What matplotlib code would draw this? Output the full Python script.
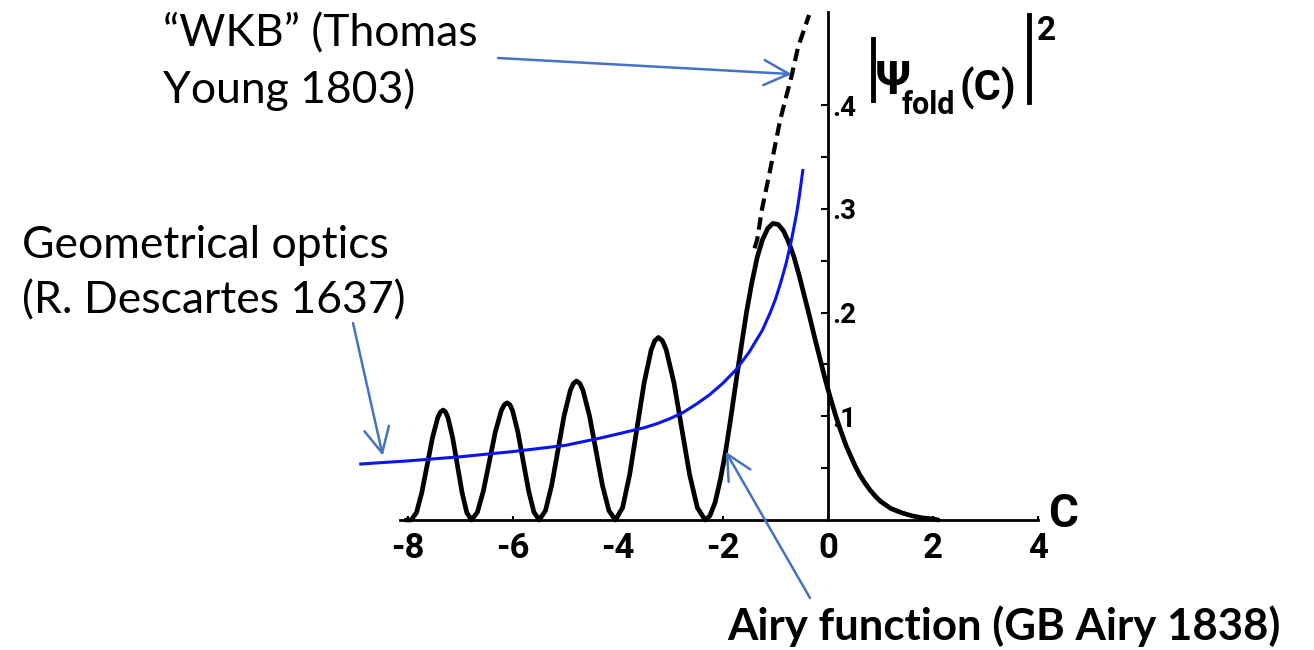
import matplotlib
matplotlib.use('Agg')
import matplotlib.pyplot as plt
from matplotlib.lines import Line2D

# |Ai(C)|^2
airy_c = [-8.04, -7.94, -7.838, -7.737, -7.635, -7.533, -7.432, -7.381, -7.33,
          -7.285, -7.24, -7.15, -7.06, -6.97, -6.88, -6.79,
          -6.677, -6.563, -6.45, -6.337, -6.223, -6.167, -6.11,
          -6.059, -6.008, -5.907, -5.805, -5.703, -5.602, -5.50,
          -5.382, -5.263, -5.145, -5.027, -4.908, -4.849, -4.79,
          -4.728, -4.667, -4.543, -4.42, -4.297, -4.173, -4.05,
          -3.913, -3.777, -3.64, -3.503, -3.367, -3.298, -3.23,
          -3.156, -3.082, -2.933, -2.785, -2.637, -2.488, -2.34,
          -2.25, -2.15, -2.05, -1.95, -1.85, -1.75, -1.65, -1.55, -1.45, -1.35,
          -1.25, -1.15, -1.05, -0.95, -0.85, -0.75, -0.65, -0.55, -0.45, -0.35,
          -0.25, -0.15, -0.05, 0.05, 0.15, 0.25, 0.35, 0.5, 0.6, 0.7, 0.8, 0.9,
          1.0, 1.2, 1.4, 1.6, 1.8, 2.0, 2.1]
airy_i = [0.0, 0.0, 0.0071, 0.0265, 0.053, 0.0795, 0.0989, 0.1042, 0.106,
          0.1042, 0.0989, 0.0795, 0.053, 0.0265, 0.0071, 0.0,
          0.0076, 0.0283, 0.0565, 0.0848, 0.1054, 0.1111, 0.113,
          0.1111, 0.1054, 0.0848, 0.0565, 0.0283, 0.0076, 0.0,
          0.009, 0.0335, 0.067, 0.1005, 0.125, 0.1317, 0.134,
          0.1317, 0.125, 0.1005, 0.067, 0.0335, 0.009, 0.0,
          0.0118, 0.044, 0.088, 0.132, 0.1642, 0.173, 0.176,
          0.173, 0.1642, 0.132, 0.088, 0.044, 0.0118, 0.0,
          0.004, 0.017, 0.039, 0.066, 0.099, 0.134, 0.168, 0.201, 0.229, 0.253,
          0.270, 0.281, 0.286, 0.285, 0.279, 0.268, 0.254, 0.236, 0.216, 0.196,
          0.175, 0.155, 0.135, 0.117, 0.100, 0.085, 0.071, 0.054, 0.044, 0.036,
          0.029, 0.023, 0.018, 0.011, 0.007, 0.004, 0.002, 0.001, 0.0]

# dashed WKB branch
wkb_c = [-1.40, -1.35, -1.26, -1.10, -0.91, -0.69, -0.57, -0.36]
wkb_i = [0.262, 0.270, 0.299, 0.338, 0.386, 0.429, 0.456, 0.487]

# blue geometrical optics curve
geo_c = [-8.90, -8.0, -7.0, -6.0, -5.0, -4.34, -4.0, -3.5, -3.25, -3.0, -2.75,
         -2.5, -2.25, -2.0, -1.75, -1.5, -1.25, -1.1, -1.0, -0.9, -0.8, -0.7,
         -0.6, -0.55, -0.48]
geo_i = [0.054, 0.057, 0.061, 0.066, 0.072, 0.079, 0.083, 0.089, 0.093, 0.098,
         0.104, 0.112, 0.121, 0.132, 0.145, 0.162, 0.183, 0.200, 0.213, 0.229,
         0.247, 0.269, 0.295, 0.311, 0.337]

xticks = [-8, -6, -4, -2, 0, 2, 4]
xlabels = ['-8', '-6', '-4', '-2', '0', '2', '4']
yticks = [0.1, 0.2, 0.3, 0.4]
ylabels = ['.1', '.2', '.3', '.4']
yminor = [0.05, 0.15, 0.25, 0.35]

W, H = 1314, 650
tech = ['Roboto', 'DejaVu Sans']
note = ['Lato', 'DejaVu Sans']
arrow_col = '#4472C4'

fig = plt.figure(figsize=(W / 100, H / 100), dpi=100)
ax = fig.add_axes([0, 0, 1, 1])
# 52.5 px per unit of C, 1037 px per unit of intensity, origin at (828, 520)
ax.set_xlim(-828 / 52.5, (W - 828) / 52.5)
ax.set_ylim(-(H - 520) / 1037, 520 / 1037)

ax.plot(airy_c, airy_i, color='black', lw=3.4, solid_joinstyle='round',
        solid_capstyle='round', zorder=2)
ax.plot(wkb_c, wkb_i, color='black', lw=3, ls=(0, (3, 1.6)), zorder=2)
ax.plot(geo_c, geo_i, color='#0a14ee', lw=2.2, zorder=3)

ax.spines['top'].set_visible(False)
ax.spines['left'].set_visible(False)
ax.spines['bottom'].set_position(('data', 0))
ax.spines['bottom'].set_bounds(-8.15, 4.0)
ax.spines['bottom'].set_linewidth(2)
ax.spines['right'].set_position(('data', 0))
ax.spines['right'].set_bounds(0, 0.49)
ax.spines['right'].set_linewidth(2)
ax.xaxis.set_ticks_position('bottom')
ax.yaxis.set_ticks_position('right')

ax.set_xticks(xticks, xlabels, fontsize=25, family=tech, weight='bold')
ax.tick_params(axis='x', direction='in', length=3, width=1.5, pad=9)
ax.set_yticks(yticks, ylabels, fontsize=20, family=tech, weight='bold')
ax.set_yticks(yminor, minor=True)
ax.tick_params(axis='y', which='both', direction='in', length=5, width=1.5, pad=3)


def fp(x, y):
    # pixel position measured from the top-left corner -> figure fraction
    return x / W, 1 - y / H


# axis labels
fig.text(*fp(1048, 527), 'C', fontsize=33, family=tech, weight='bold', va='baseline')
fig.add_artist(Line2D(*zip(fp(873, 39), fp(873, 100)), lw=3.5, color='black'))
fig.text(*fp(876, 94), 'Ψ', fontsize=34, family=tech, weight='bold', va='baseline')
fig.text(*fp(902, 114), 'fold', fontsize=22, family=tech, weight='bold', va='baseline')
fig.text(*fp(959, 100), '(C)', fontsize=30, family=tech, weight='bold', va='baseline')
fig.add_artist(Line2D(*zip(fp(1029, 15), fp(1029, 102)), lw=3.5, color='black'))
fig.text(*fp(1037, 40), '2', fontsize=24, family=tech, weight='bold', va='baseline')

# annotations
fig.text(*fp(163, 46), '“WKB” (Thomas', fontsize=32, family=note, va='baseline')
fig.text(*fp(163, 103), 'Young 1803)', fontsize=32, family=note, va='baseline')
fig.text(*fp(22, 258), 'Geometrical optics', fontsize=32, family=note, va='baseline')
fig.text(*fp(22, 313), '(R. Descartes 1637)', fontsize=32, family=note, va='baseline')
fig.text(*fp(727, 640), 'Airy function (GB Airy 1838)', fontsize=31.5,
         family=note, weight='bold', va='baseline')

arrow = dict(arrowstyle='->,head_length=0.6,head_width=0.3', color=arrow_col,
             lw=1.8, shrinkA=0, shrinkB=0, mutation_scale=30)
ax.annotate('', xy=(-0.69, 0.430), xytext=(498, H - 58),
            textcoords='figure pixels', arrowprops=arrow)
ax.annotate('', xy=(-8.48, 0.062), xytext=(353, H - 323),
            textcoords='figure pixels', arrowprops=arrow)
ax.annotate('', xy=(-1.95, 0.066), xytext=(810, H - 598),
            textcoords='figure pixels', arrowprops=arrow)

fig.savefig('out.png', dpi=100)
